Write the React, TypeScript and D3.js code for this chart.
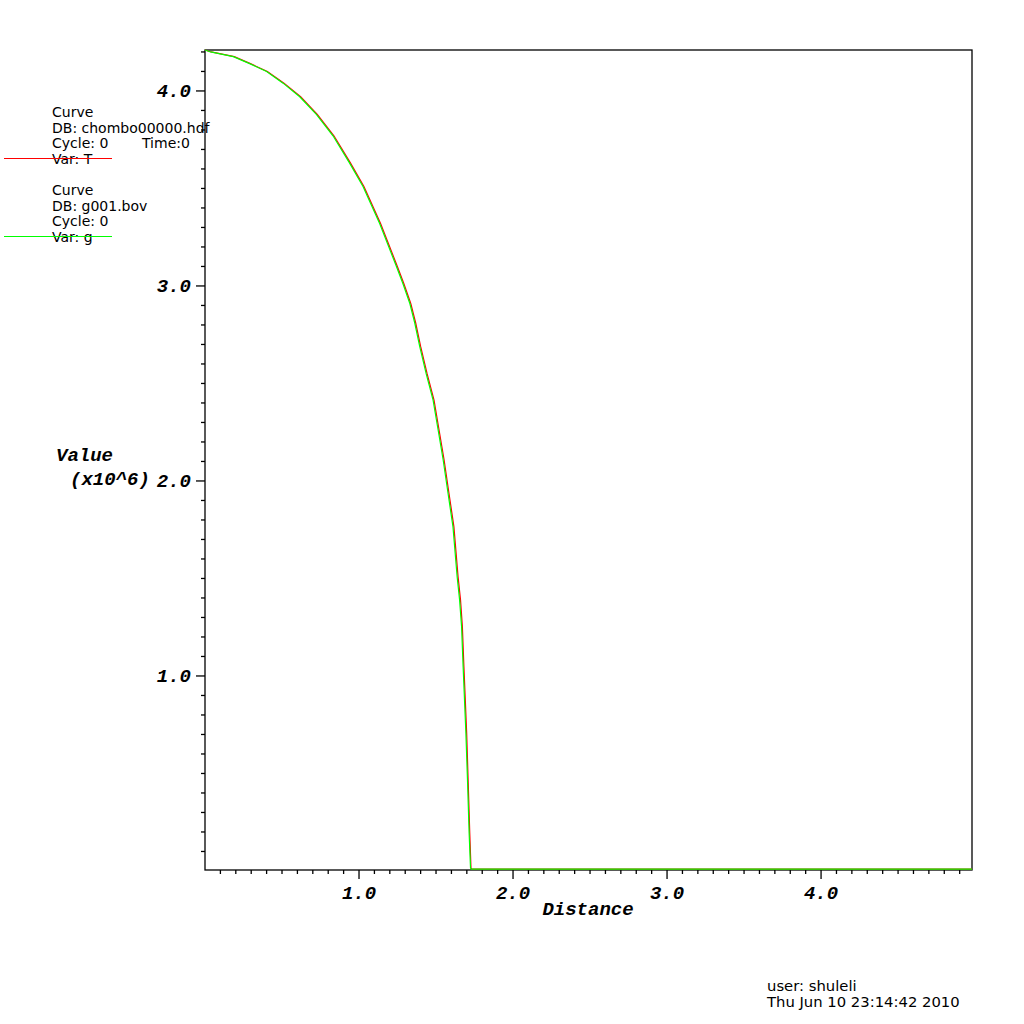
import React, { useEffect, useRef } from 'react';
import * as d3 from 'd3';

// curves, values in units of 1e6
const distT = [0, 0.04, 0.19, 0.295, 0.405, 0.513, 0.621, 0.729, 0.837, 0.945, 1.032, 1.14, 1.249, 1.292, 1.336, 1.368, 1.4, 1.442, 1.487, 1.52, 1.552, 1.584, 1.616, 1.643, 1.659, 1.671, 1.681, 1.699, 1.709, 1.719, 1.727, 1.732, 4.98];
const valueT = [4.21, 4.2, 4.176, 4.14, 4.1, 4.04, 3.97, 3.88, 3.77, 3.63, 3.51, 3.32, 3.1, 3.01, 2.91, 2.81, 2.69, 2.55, 2.415, 2.26, 2.11, 1.937, 1.766, 1.51, 1.39, 1.253, 1.048, 0.706, 0.451, 0.195, 0.015, 0.01, 0.01];
const distG = [0, 0.037, 0.184, 0.29, 0.4, 0.507, 0.615, 0.723, 0.831, 0.939, 1.026, 1.134, 1.243, 1.286, 1.33, 1.362, 1.394, 1.436, 1.481, 1.514, 1.546, 1.578, 1.61, 1.637, 1.653, 1.666, 1.676, 1.694, 1.705, 1.715, 1.724, 1.73, 4.98];
const valueG = [4.21, 4.2, 4.176, 4.14, 4.1, 4.04, 3.97, 3.88, 3.77, 3.63, 3.51, 3.32, 3.1, 3.01, 2.91, 2.81, 2.69, 2.55, 2.415, 2.26, 2.11, 1.937, 1.766, 1.51, 1.39, 1.253, 1.048, 0.706, 0.451, 0.195, 0.015, 0.01, 0.01];

const xMajor = [1, 2, 3, 4];
const yMajor = [1, 2, 3, 4];

const legendT = ['Curve', 'DB: chombo00000.hdf', 'Cycle: 0', 'Var: T'];
const legendG = ['Curve', 'DB: g001.bov', 'Cycle: 0', 'Var: g'];
const footer = ['user: shuleli', 'Thu Jun 10 23:14:42 2010'];

const monoFont = '"Liberation Mono", "DejaVu Sans Mono", monospace';
const sansFont = '"DejaVu Sans", sans-serif';

const App = () => {
  const ref = useRef<HTMLDivElement>(null);

  useEffect(() => {
    const width = 1024;
    const height = 1024;
    const left = 205, right = 972, top = 50, bottom = 870;

    const root = d3.select(ref.current);
    root.selectAll('*').remove();
    const svg = root.append('svg')
      .attr('width', width)
      .attr('height', height)
      .style('display', 'block')
      .style('background', '#fff');

    const x = d3.scaleLinear().domain([0, 4.98]).range([left, right]);
    const y = d3.scaleLinear().domain([0.005, 4.21]).range([bottom, top]);

    // frame
    svg.append('rect')
      .attr('x', left).attr('y', top)
      .attr('width', right - left).attr('height', bottom - top)
      .attr('fill', 'none').attr('stroke', '#000').attr('stroke-width', 1.3);

    // x ticks
    const xMinor = d3.range(1, 50).map(i => i / 10);
    svg.append('g').selectAll('line')
      .data(xMinor)
      .enter().append('line')
      .attr('x1', d => x(d)).attr('x2', d => x(d))
      .attr('y1', bottom)
      .attr('y2', d => bottom + (xMajor.includes(d) ? 9 : 4))
      .attr('stroke', '#000').attr('stroke-width', 1.3);

    svg.append('g').selectAll('text')
      .data(xMajor)
      .enter().append('text')
      .attr('x', d => x(d)).attr('y', 899)
      .attr('text-anchor', 'middle')
      .style('font-family', monoFont)
      .style('font-size', '19px').style('font-weight', 'bold').style('font-style', 'italic')
      .text(d => d.toFixed(1));

    // y ticks
    const yMinor = d3.range(1, 43).map(i => i / 10);
    svg.append('g').selectAll('line')
      .data(yMinor)
      .enter().append('line')
      .attr('y1', d => y(d)).attr('y2', d => y(d))
      .attr('x1', left)
      .attr('x2', d => left - (yMajor.includes(d) ? 9 : 4))
      .attr('stroke', '#000').attr('stroke-width', 1.3);

    svg.append('g').selectAll('text')
      .data(yMajor)
      .enter().append('text')
      .attr('x', 191).attr('y', d => y(d) + 6)
      .attr('text-anchor', 'end')
      .style('font-family', monoFont)
      .style('font-size', '19px').style('font-weight', 'bold').style('font-style', 'italic')
      .text(d => d.toFixed(1));

    // axis titles
    const title = (t: string, tx: number, ty: number, anchor = 'start') =>
      svg.append('text')
        .attr('x', tx).attr('y', ty)
        .attr('text-anchor', anchor)
        .style('font-family', monoFont)
        .style('font-size', '19px').style('font-weight', 'bold').style('font-style', 'italic')
        .text(t);
    title('Distance', 588, 915, 'middle');
    title('Value', 56, 461);
    title('(x10^6)', 70, 485);

    // curves
    const drawCurve = (xs: number[], vs: number[], color: string) => {
      const pts = xs.map((d, i) => [x(d), y(vs[i])] as [number, number]);
      svg.append('path')
        .attr('d', d3.line()(pts))
        .attr('fill', 'none')
        .attr('stroke', color)
        .attr('stroke-width', 1.2);
    };
    drawCurve(distT, valueT, '#ff0000');
    drawCurve(distG, valueG, '#00ff00');

    // legend
    const legend = (lines: string[], y0: number, color: string, extra?: string) => {
      const g = svg.append('g');
      lines.forEach((t, i) => {
        g.append('text')
          .attr('x', 52).attr('y', y0 + i * 15.5)
          .style('font-family', sansFont).style('font-size', '14px')
          .attr('fill', '#000')
          .text(t);
      });
      if (extra) {
        g.append('text')
          .attr('x', 142).attr('y', y0 + 2 * 15.5)
          .style('font-family', sansFont).style('font-size', '14px')
          .text(extra);
      }
      g.append('line')
        .attr('x1', 4).attr('x2', 112)
        .attr('y1', y0 + 3 * 15.5 - 5).attr('y2', y0 + 3 * 15.5 - 5)
        .attr('stroke', color).attr('stroke-width', 1);
    };
    legend(legendT, 117, '#ff0000', 'Time:0');
    legend(legendG, 195, '#00ff00');

    // footer
    footer.forEach((t, i) => {
      svg.append('text')
        .attr('x', 767).attr('y', 991 + i * 16)
        .style('font-family', sansFont).style('font-size', '14.8px')
        .text(t);
    });
  }, []);

  return <div ref={ref} style={{ position: 'absolute', left: 0, top: 0 }}></div>;
};

export default App;
